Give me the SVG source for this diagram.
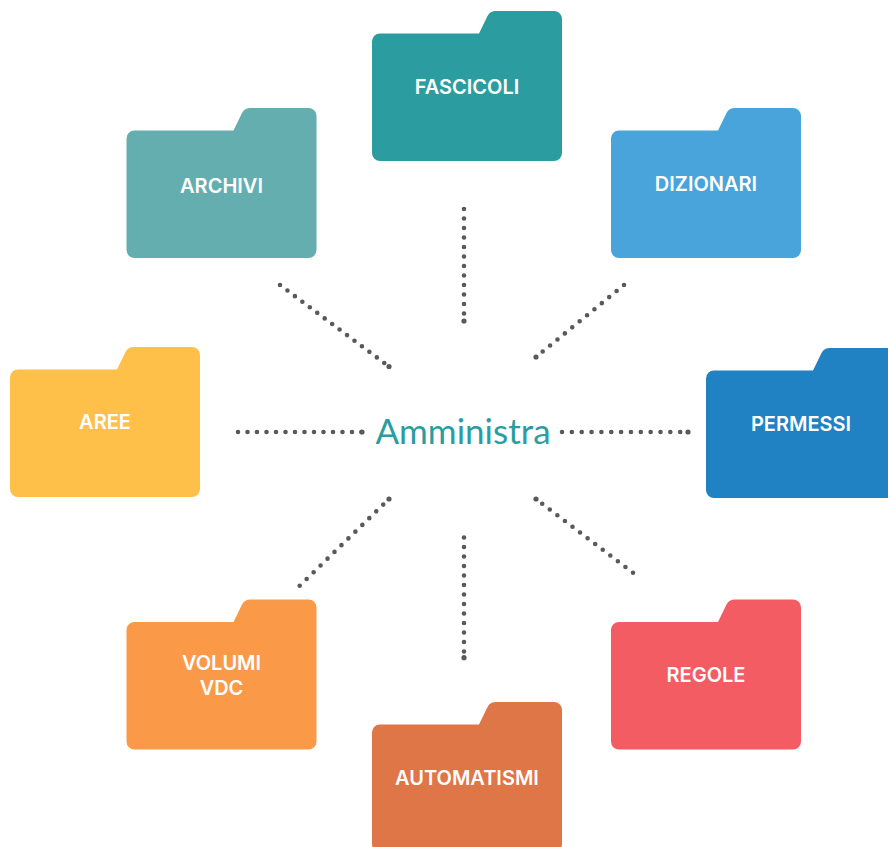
<svg xmlns="http://www.w3.org/2000/svg" width="888" height="847" viewBox="0 0 888 847">
<style>
.lbl{font-family:"Inter","Liberation Sans",sans-serif;font-weight:600;font-size:20px;fill:#fff;text-anchor:middle}
.title{font-family:"Lato","Liberation Sans",sans-serif;font-size:35px;fill:#2b9da1;text-anchor:middle}
.dots{fill:none;stroke:#595959;stroke-width:4.6;stroke-linecap:round;marker-end:url(#endDot)}
</style>
<defs>
<marker id="endDot" markerUnits="userSpaceOnUse" markerWidth="8" markerHeight="8" refX="4" refY="4"><circle cx="4" cy="4" r="2.6" fill="#595959"/></marker>
<path id="folder" d="M8 22.5H107L115.5 5Q118 0 124 0H182a8 8 0 0 1 8 8V142a8 8 0 0 1-8 8H8a8 8 0 0 1-8-8V30.5a8 8 0 0 1 8-8z"/>
</defs>
<rect width="888" height="847" fill="#fff"/>
<g id="connectors">
<path class="dots" stroke-dasharray="0 9.5" d="M464 209V321"/>
<path class="dots" stroke-dasharray="0 9.3" d="M280 285L389 366.5"/>
<path class="dots" stroke-dasharray="0 9.55" d="M624 285L536 357"/>
<path class="dots" stroke-dasharray="0 9.5" d="M238 432H362"/>
<path class="dots" stroke-dasharray="0 9.85" d="M562 432H688"/>
<path class="dots" stroke-dasharray="0 9.7" d="M299.7 585.7L389 499"/>
<path class="dots" stroke-dasharray="0 9.5" d="M633 572.7L536 499"/>
<path class="dots" stroke-dasharray="0 9.5" d="M464 537.5V657.7"/>
</g>
<g id="center"><text class="title" x="463" y="444">Amministra</text></g>
<g id="fascicoli"><use href="#folder" x="372" y="11" fill="#2b9da1"/><text class="lbl" x="467" y="94">FASCICOLI</text></g>
<g id="archivi"><use href="#folder" x="126.500" y="108" fill="#65aeb0"/><text class="lbl" x="221.500" y="193">ARCHIVI</text></g>
<g id="dizionari"><use href="#folder" x="611" y="108" fill="#48a4da"/><text class="lbl" x="706" y="191">DIZIONARI</text></g>
<g id="aree"><use href="#folder" x="10" y="347" fill="#ffc04a"/><text class="lbl" x="105" y="429">AREE</text></g>
<g id="permessi"><use href="#folder" x="706" y="348" fill="#2182c3"/><text class="lbl" x="801" y="431">PERMESSI</text></g>
<g id="volumi"><use href="#folder" x="126.500" y="599.500" fill="#fa9a49"/><text class="lbl" x="221.500" y="670">VOLUMI</text><text class="lbl" x="221.500" y="695">VDC</text></g>
<g id="regole"><use href="#folder" x="611" y="599.500" fill="#f45c63"/><text class="lbl" x="706" y="682">REGOLE</text></g>
<g id="automatismi"><use href="#folder" x="372" y="702" fill="#de7647"/><text class="lbl" x="467" y="785">AUTOMATISMI</text></g>
</svg>
